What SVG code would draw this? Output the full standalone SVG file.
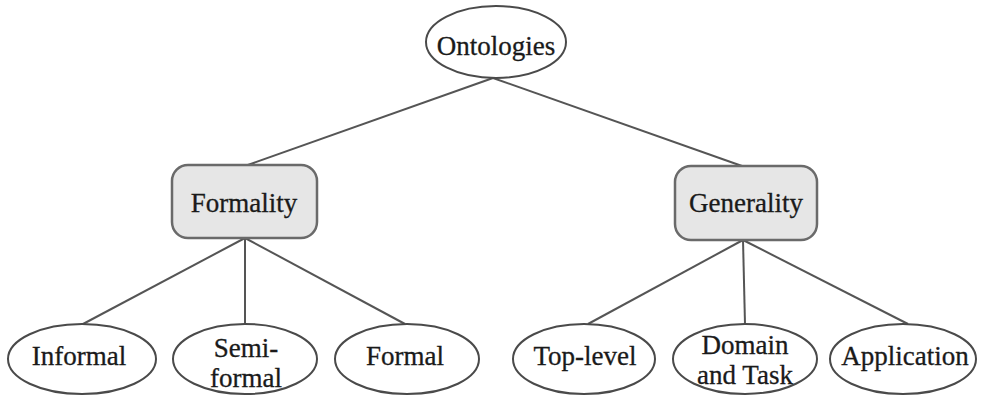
<svg xmlns="http://www.w3.org/2000/svg" width="984" height="396" viewBox="0 0 984 396">
<style>
.e{fill:#fff;stroke:#4a4a4a;stroke-width:2}
.b{fill:#e6e6e6;stroke:#6a6a6a;stroke-width:2.5}
.t{font-family:"Liberation Serif","Times New Roman",serif;font-size:27px;fill:#1a1a1a;stroke:#1a1a1a;stroke-width:0.3;text-anchor:middle}
.c{stroke:#555;stroke-width:2;fill:none}
</style>
<rect width="984" height="396" fill="#fff"/>
<g id="connectors">
<line class="c" x1="493" y1="78" x2="245" y2="166"/>
<line class="c" x1="493" y1="78" x2="742" y2="166"/>
<line class="c" x1="245" y1="238" x2="83" y2="324"/>
<line class="c" x1="245" y1="238" x2="245" y2="324"/>
<line class="c" x1="245" y1="238" x2="405" y2="324"/>
<line class="c" x1="743" y1="240" x2="588" y2="324"/>
<line class="c" x1="743" y1="240" x2="745" y2="324"/>
<line class="c" x1="743" y1="240" x2="908" y2="324"/>
</g>
<g id="ontologies">
<ellipse class="e" cx="496" cy="42" rx="70" ry="36"/>
<text class="t" x="496" y="55">Ontologies</text>
</g>
<g id="formality">
<rect class="b" x="172" y="165" width="145" height="73" rx="16"/>
<text class="t" x="244" y="212">Formality</text>
</g>
<g id="generality">
<rect class="b" x="675" y="166" width="142" height="74" rx="16"/>
<text class="t" x="746" y="212">Generality</text>
</g>
<g id="informal">
<ellipse class="e" cx="82" cy="359" rx="74" ry="35"/>
<text class="t" x="79" y="365">Informal</text>
</g>
<g id="semiformal">
<ellipse class="e" cx="245" cy="359" rx="72" ry="35"/>
<text class="t" x="246" y="357">Semi-</text>
<text class="t" x="246" y="387">formal</text>
</g>
<g id="formal">
<ellipse class="e" cx="407" cy="359" rx="72" ry="35"/>
<text class="t" x="405" y="365">Formal</text>
</g>
<g id="toplevel">
<ellipse class="e" cx="584" cy="359" rx="71" ry="35"/>
<text class="t" x="585" y="365">Top-level</text>
</g>
<g id="domaintask">
<ellipse class="e" cx="745" cy="359" rx="72" ry="35"/>
<text class="t" x="745" y="354">Domain</text>
<text class="t" x="745" y="384">and Task</text>
</g>
<g id="application">
<ellipse class="e" cx="903" cy="359" rx="73" ry="35"/>
<text class="t" x="905" y="365">Application</text>
</g>
</svg>
